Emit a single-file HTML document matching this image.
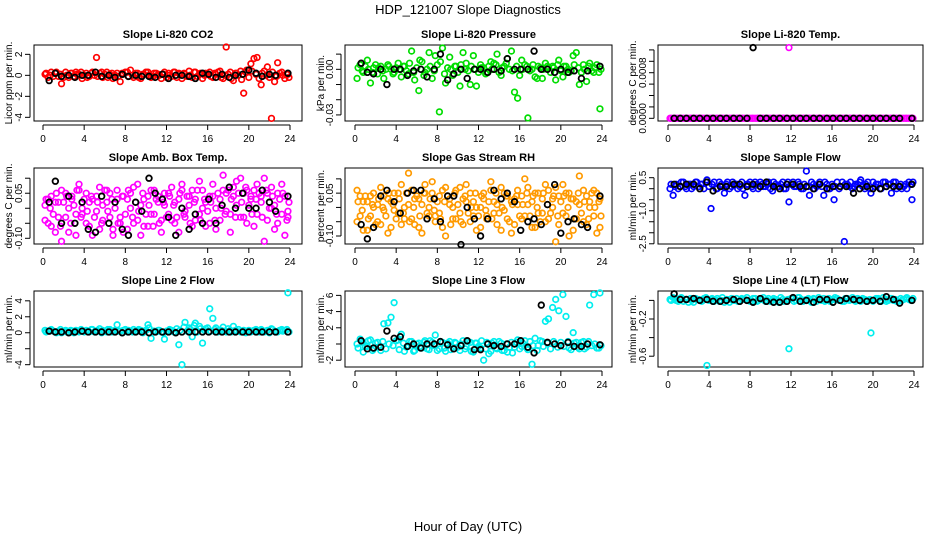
<!DOCTYPE html>
<html><head><meta charset="utf-8"><title>HDP_121007 Slope Diagnostics</title>
<style>
html,body{margin:0;padding:0;background:#fff;}
svg{display:block;font-family:"Liberation Sans",Arial,sans-serif;}
</style></head>
<body>
<svg id="chart" width="936" height="540" viewBox="0 0 936 540" xmlns="http://www.w3.org/2000/svg">
<text x="468" y="14" font-size="13" text-anchor="middle">HDP_121007  Slope Diagnostics</text>
<text x="468" y="531" font-size="13" text-anchor="middle">Hour of Day (UTC)</text>
</svg>
<script>
// shared categories (hour of day)
const hoursColor = [0.2,0.5,0.8,1.2,1.5,1.8,2.2,2.5,2.8,3.2,3.5,3.8,4.2,4.5,4.8,5.2,5.5,5.8,6.2,6.5,6.8,7.2,7.5,7.8,8.2,8.5,8.8,9.2,9.5,9.8,10.2,10.5,10.8,11.2,11.5,11.8,12.2,12.5,12.8,13.2,13.5,13.8,14.2,14.5,14.8,15.2,15.5,15.8,16.2,16.5,16.8,17.2,17.5,17.8,18.2,18.5,18.8,19.2,19.5,19.8,20.2,20.5,20.8,21.2,21.5,21.8,22.2,22.5,22.8,23.2,23.5,23.8];
const hoursColorB = [0.3,0.7,1.0,1.3,1.7,2.0,2.3,2.7,3.0,3.3,3.7,4.0,4.3,4.7,5.0,5.3,5.7,6.0,6.3,6.7,7.0,7.3,7.7,8.0,8.3,8.7,9.0,9.3,9.7,10.0,10.3,10.7,11.0,11.3,11.7,12.0,12.3,12.7,13.0,13.3,13.7,14.0,14.3,14.7,15.0,15.3,15.7,16.0,16.3,16.7,17.0,17.3,17.7,18.0,18.3,18.7,19.0,19.3,19.7,20.0,20.3,20.7,21.0,21.3,21.7,22.0,22.3,22.7,23.0,23.3,23.7,23.9];
const hoursBlack = [0.6,1.2,1.8,2.5,3.1,3.8,4.4,5.1,5.7,6.4,7.0,7.7,8.3,9.0,9.6,10.3,10.9,11.6,12.2,12.9,13.5,14.2,14.8,15.5,16.1,16.8,17.4,18.1,18.7,19.4,20.0,20.7,21.3,22.0,22.6,23.8];
const xTicks = [0,4,8,12,16,20,24];

// Panel 1: CO2
const co2Color = [0.1,-0.2,0.3,0.2,-0.1,-0.8,0.3,-0.2,0.2,0.3,0.1,-0.3, 0.2,-0.1,0.3,1.7,0.2,-0.2,0.3,0.1,-0.3,0.2,-0.6,0.1, 0.3,0.5,-0.2,0.2,-0.3,0.1,0.3,-0.2,0.2,0.1,-0.3,0.3, 0.2,-0.1,0.3,0.2,-0.3,0.1,0.4,-0.2,0.3,0.1,-0.3,0.2, 0.3,-0.2,0.1,0.4,-0.3,2.7,0.3,-0.5,0.2,0.4,-1.7,0.5, 1.1,1.6,1.7,-0.9,0.4,0.8,-4.1,-0.6,1.2,0.3,-0.3,0.1];
const co2ColorB = [0.2,0.0,-0.1,0.3,0.1,-0.2,0.0,0.2,-0.1,0.1,0.3,0.0, -0.2,0.2,0.0,-0.1,0.3,0.1,-0.2,0.2,0.0,-0.1,0.2,0.3, -0.1,0.0,0.2,-0.2,0.1,0.3,0.0,-0.1,0.2,0.0,0.1,-0.2, 0.0,0.3,-0.2,0.1,0.2,-0.1,0.0,0.3,-0.1,0.2,0.0,0.1, -0.1,0.2,0.3,-0.2,0.0,0.1,-0.3,0.2,0.0,-0.4,0.3,-0.2, 0.4,0.1,-0.3,0.2,0.0,-0.2,0.3,-0.1,0.2,0.0,0.1,-0.2];
const co2Black = [-0.5,0.2,-0.1,0.0,-0.2,0.0, 0.0,0.3,-0.1,0.0,-0.2,0.1, -0.1,0.0,-0.1,-0.1,-0.2,0.1, -0.3,0.0,0.0,-0.1,-0.3,0.2, 0.1,-0.2,0.1,-0.2,0.0,0.1, 0.5,0.2,-0.1,0.1,0.0,0.2];
// Panel 2: Pressure
const presColor = [-0.006,0.003,-0.002,0.006,-0.009,0.001,-0.003,0.002,-0.006,0.003,0.000,-0.002, 0.004,-0.005,0.002,-0.003,0.012,-0.007,-0.014,0.005,-0.002,0.011,-0.006,0.009, -0.028,0.014,-0.009,0.008,-0.004,0.002,-0.011,0.011,0.004,-0.010,0.009,-0.011, 0.003,0.001,-0.002,0.005,0.004,0.010,-0.004,0.002,0.007,0.012,-0.015,-0.019, 0.006,0.003,-0.032,0.000,-0.005,0.002,-0.006,0.004,0.001,0.002,-0.007,0.006, -0.005,0.002,-0.002,0.009,0.011,-0.010,0.003,-0.008,0.004,-0.002,0.003,-0.026];
const presColorB = [0.001,-0.001,0.002,0.000,-0.002,0.003,0.001,-0.001,0.000,0.002,-0.003,0.001, 0.000,0.002,-0.001,0.004,-0.002,0.001,0.006,-0.004,0.000,0.002,-0.001,0.003, 0.005,-0.003,0.001,0.000,0.002,-0.002,0.003,0.000,-0.001,0.002,0.000,-0.002, 0.001,-0.003,0.002,0.000,0.003,-0.002,0.001,0.004,0.000,-0.001,0.002,-0.004, 0.000,0.002,-0.001,0.003,-0.006,0.001,0.000,0.002,-0.002,0.001,0.003,-0.001, 0.002,0.000,-0.001,0.003,0.001,-0.002,0.000,0.002,-0.001,0.001,-0.002,0.000];
const presBlack = [0.004,-0.002,-0.003,0.000,-0.010,0.000, 0.000,-0.004,-0.001,0.000,-0.005,0.000, 0.010,-0.007,-0.003,0.000,-0.006,0.000, 0.000,-0.002,0.000,-0.001,0.007,0.000, 0.000,0.000,0.012,0.000,0.000,-0.002, 0.000,-0.002,-0.001,-0.006,-0.001,0.002];
// Panel 3: Li-820 Temp
const tempColor = [0,0,0,0,0,0,0,0,0,0,0,0, 0,0,0,0,0,0,0,0,0,0,0,0, 0,0,0,0,0,0,0,0,0,0,0,0.00124, 0,0,0,0,0,0,0,0,0,0,0,0, 0,0,0,0,0,0,0,0,0,0,0,0, 0,0,0,0,0,0,0,0,0,0,0,0];
const tempColorB = [0,0,0,0,0,0,0,0,0,0,0,0, 0,0,0,0,0,0,0,0,0,0,0,0, 0,0,0,0,0,0,0,0,0,0,0,0, 0,0,0,0,0,0,0,0,0,0,0,0, 0,0,0,0,0,0,0,0,0,0,0,0, 0,0,0,0,0,0,0,0,0,0,0,0];
const tempBlack = [0,0,0,0,0,0, 0,0,0,0,0,0, 0.00124,0,0,0,0,0, 0,0,0,0,0,0, 0,0,0,0,0,0, 0,0,0,0,0,0];
// Panel 4: Amb Box Temp
const ambColorA = [0.01,-0.05,0.04,-0.08,0.02,0.06,-0.03,0.00,0.04,-0.09,0.08,-0.02, 0.05,-0.06,0.03,-0.01,0.07,-0.04,0.02,0.05,-0.07,0.06,-0.03,-0.08, 0.03,0.05,-0.05,0.08,0.01,-0.06,0.04,-0.02,0.06,0.02,-0.04,0.05, -0.02,0.07,-0.05,0.03,0.08,-0.03,0.01,0.06,-0.04,0.09,0.00,-0.06, 0.04,0.08,-0.07,0.03,0.11,0.05,-0.02,0.07,0.01,0.10,-0.03,0.06, 0.04,-0.06,0.08,0.02,0.10,-0.04,0.07,0.01,-0.05,0.08,-0.09,-0.03];
const ambColorB = [-0.04,0.03,-0.06,0.02,-0.03,-0.11,0.05,-0.08,0.03,-0.02,0.06,0.00, -0.05,0.02,-0.09,0.04,-0.07,0.01,0.06,-0.03,-0.09,0.03,-0.05,0.04, -0.07,0.00,0.07,-0.04,-0.09,0.03,-0.06,0.06,-0.02,0.04,-0.08,0.01, 0.05,-0.04,0.02,-0.08,0.06,-0.01,0.04,-0.06,0.03,-0.02,0.06,0.02, -0.05,0.04,0.00,-0.04,0.06,-0.01,-0.08,0.04,0.09,-0.03,0.05,-0.05, 0.03,0.06,-0.02,0.04,-0.11,0.05,0.00,-0.07,0.05,-0.02,0.04,-0.01];
const ambColorC = [0.03,0.00,-0.02,0.05,-0.06,0.02,0.04,-0.05,0.01,0.06,-0.03,0.03, -0.01,0.04,-0.03,0.02,-0.05,0.06,-0.01,0.03,0.00,-0.05,0.04,-0.02, 0.06,-0.03,0.02,-0.01,0.05,-0.02,0.01,-0.06,0.03,-0.05,0.02,-0.03, 0.04,0.01,-0.03,0.05,-0.02,0.04,-0.05,0.02,0.06,-0.04,0.03,-0.01, 0.02,-0.04,0.05,0.00,-0.02,0.06,0.03,-0.03,0.05,0.02,0.07,0.01, -0.02,0.03,0.05,-0.03,0.06,0.00,0.04,-0.02,0.03,0.05,-0.04,0.02];
const ambBlack = [0.02,0.09,-0.05,0.04,-0.05,0.02, -0.07,-0.08,0.04,-0.05,0.02,-0.07, -0.09,0.02,-0.01,0.10,0.05,0.03, -0.03,-0.09,0.00,-0.07,-0.02,-0.05, 0.03,-0.05,0.01,0.07,0.00,0.05, 0.00,0.00,0.06,0.02,-0.01,0.04];
// Panel 5: Gas Stream RH
const rhColorA = [0.06,-0.03,0.02,-0.08,0.04,0.00,-0.05,0.07,-0.01,0.03,-0.07,0.05, -0.02,0.08,-0.04,0.01,0.06,-0.06,0.03,-0.09,0.05,0.00,0.09,-0.03, 0.04,-0.07,0.07,0.01,-0.04,0.06,-0.02,0.03,0.08,-0.05,0.02,-0.08, 0.00,0.05,-0.03,0.09,0.02,-0.06,0.07,-0.01,0.04,-0.09,0.03,0.06, -0.04,0.10,0.01,-0.07,0.05,-0.02,0.03,-0.05,0.06,0.00,-0.12,0.04, 0.08,-0.03,0.05,-0.08,0.02,0.11,-0.05,0.04,0.00,0.06,-0.09,0.03];
const rhColorB = [-0.05,0.04,-0.08,0.02,-0.03,0.05,0.01,-0.06,0.04,-0.09,0.02,-0.01, 0.05,-0.06,0.00,0.12,-0.04,0.03,-0.07,0.01,0.08,-0.03,0.05,-0.05, -0.02,0.06,-0.10,0.03,0.00,-0.04,0.07,-0.06,0.02,0.05,-0.03,0.00, -0.07,0.03,-0.04,0.06,-0.02,0.01,-0.08,0.05,-0.04,0.02,-0.06,0.01, 0.04,-0.03,0.07,0.02,-0.07,0.05,-0.02,0.08,-0.04,0.03,0.07,-0.06, -0.02,0.05,-0.10,0.03,-0.04,0.01,0.06,-0.06,0.02,-0.03,0.05,-0.07];
const rhColorC = [0.02,-0.01,0.04,-0.04,0.01,-0.06,0.03,0.00,-0.03,0.05,0.01,-0.04, 0.03,-0.02,0.05,-0.05,0.00,0.04,-0.03,0.05,-0.02,0.03,-0.01,0.02, -0.04,0.02,0.04,-0.06,0.05,0.01,-0.05,0.04,-0.02,0.00,0.05,-0.03, 0.04,-0.01,0.02,-0.04,0.05,-0.02,0.00,0.04,-0.05,0.01,0.04,-0.03, 0.01,0.05,-0.03,0.04,0.00,-0.05,0.05,0.01,-0.02,0.04,-0.03,0.02, 0.04,0.00,0.03,-0.04,0.05,-0.02,0.02,-0.04,0.05,0.00,0.02,-0.03];
const rhBlack = [-0.06,-0.11,-0.07,0.04,0.06,0.02, -0.02,0.05,0.06,0.06,-0.04,0.03, -0.05,0.04,0.04,-0.13,0.00,-0.04, -0.10,-0.04,0.06,0.03,0.05,0.02, -0.08,-0.05,-0.04,-0.06,0.01,0.08, -0.09,-0.05,-0.04,-0.06,-0.07,0.04];
// Panel 6: Sample Flow
const sampleColor = [0.0,-0.3,0.2,0.1,0.3,0.0,0.2,0.1,0.3,0.2,0.0,0.4, -0.9,0.3,0.0,0.2,-0.2,0.3,0.1,0.2,0.0,0.3,-0.3,0.2, 0.1,0.3,0.0,0.2,0.1,0.3,-0.1,0.2,0.1,0.3,0.0,-0.6, 0.3,0.1,0.2,0.0,0.8,-0.3,0.2,0.1,0.3,-0.3,0.2,0.0, -0.5,0.3,0.1,-2.4,0.2,0.3,0.1,0.2,0.4,0.0,0.3,-0.2, 0.1,0.2,0.0,0.3,0.2,-0.2,0.3,0.1,0.0,0.2,0.3,-0.5];
const sampleColorB = [0.2,0.1,0.0,0.3,0.1,0.2,0.0,0.3,0.1,0.2,0.3,0.1, 0.2,0.0,0.3,0.1,0.2,0.0,0.3,0.2,0.1,0.0,0.2,0.3, 0.0,0.2,0.3,0.1,0.2,0.0,0.3,0.1,0.2,0.0,0.3,0.2, 0.1,0.3,0.0,0.2,0.1,0.3,0.0,0.2,0.1,0.3,0.0,0.2, 0.1,0.0,0.3,0.2,0.1,0.0,0.2,0.3,0.1,0.2,0.0,0.3, 0.2,0.0,0.3,0.1,0.2,0.3,0.0,0.2,0.1,0.0,0.2,0.3];
const sampleBlack = [0.2,0.1,0.2,0.2,0.0,0.3, -0.1,0.1,0.1,0.2,0.2,0.1, 0.2,0.1,0.3,0.1,0.0,0.2, 0.2,0.1,0.1,0.0,0.2,0.0, 0.1,0.1,0.1,-0.2,0.0,0.1, 0.0,0.0,0.1,0.1,0.1,0.2];
// Panel 7: Line 2 Flow
const line2Color = [0.3,0.2,0.4,0.1,0.2,0.0,0.3,0.1,0.2,0.3,0.1,0.2, 0.3,0.1,0.4,0.2,0.5,0.3,0.1,0.4,0.2,1.0,0.2,0.3, 0.1,0.2,0.4,0.2,0.3,0.1,1.0,-0.7,0.2,0.3,0.1,-0.8, 0.2,0.3,0.1,-1.5,-4.0,1.3,0.6,-0.5,1.2,0.8,-1.3,0.5, 3.0,1.8,0.6,0.2,0.7,0.1,0.3,0.8,0.2,0.1,0.3,0.2, 0.1,0.3,0.2,0.4,0.1,0.3,0.5,0.2,0.1,0.4,0.3,5.0];
const line2ColorB = [0.1,0.3,0.2,0.0,0.4,0.2,0.1,0.3,0.0,0.2,0.4,0.1, 0.2,0.4,0.1,0.3,0.0,0.2,0.4,0.1,0.3,0.2,0.0,0.4, 0.3,0.1,0.2,0.4,0.0,0.3,0.6,0.2,0.1,0.3,0.0,0.2, 0.4,0.1,0.5,0.3,0.7,0.2,0.4,0.9,0.1,0.5,0.3,0.6, 0.2,0.4,0.1,0.3,0.2,0.5,0.1,0.3,0.4,0.2,0.0,0.3, 0.2,0.4,0.1,0.3,0.2,0.0,0.4,0.1,0.3,0.2,0.4,0.1];
const line2Black = [0.2,0.1,0.1,0.0,0.1,0.2, 0.1,0.1,0.1,0.1,0.1,0.0, 0.1,0.1,0.1,0.0,0.1,0.1, 0.1,0.0,0.1,0.1,0.1,0.1, 0.1,0.1,0.1,0.1,0.1,0.1, 0.1,0.1,0.1,0.1,0.1,0.1];
// Panel 8: Line 3 Flow
const line3Color = [0.0,0.6,-1.0,-0.3,0.5,-0.6,0.2,-0.8,2.5,2.6,3.3,5.1, 0.5,1.2,-0.9,-0.2,0.3,-0.8,0.1,-0.5,0.4,-0.7,0.2,1.1, -0.6,0.2,-0.9,0.3,-0.4,0.1,-0.8,0.4,-0.3,0.2,-1.0,0.1, -0.5,-2.0,0.2,-0.9,0.3,-0.6,0.1,-0.8,-1.0,0.2,-0.4,0.5, -0.3,0.4,-0.7,-2.5,0.7,-0.2,0.3,2.8,3.1,4.5,5.5,4.1, 6.1,3.4,-0.5,1.4,0.2,-0.6,0.3,-0.4,4.8,6.1,-0.5,6.3];
const line3ColorB = [-0.5,0.2,-0.3,0.4,-0.8,0.1,-0.4,0.3,-0.6,0.0,-0.2,0.4, -0.7,0.1,-0.4,0.3,-0.9,0.0,-0.3,0.2,-0.6,0.4,-0.2,-0.8, 0.3,-0.5,0.1,-0.7,0.2,-0.4,0.0,-0.6,0.3,-0.9,0.1,-0.3, 0.4,-0.6,-1.2,0.1,-0.5,0.3,-0.8,0.0,-0.4,-1.1,0.2,-0.6, 0.1,-0.5,0.3,-0.2,-0.8,0.4,-0.3,0.1,-0.6,0.3,-0.4,0.2, -0.3,0.3,-0.7,0.1,-0.4,0.2,-0.6,0.3,-0.2,0.0,-0.5,-0.2];
const line3Black = [0.4,-0.6,-0.5,-0.4,1.6,0.7, 0.9,-0.3,0.0,-0.5,0.0,0.0, 0.3,-0.1,-0.6,-0.2,0.4,-0.7, -0.7,0.0,-0.2,-0.3,0.0,0.0, 0.4,-0.4,-1.1,4.8,0.2,0.0, -0.2,0.2,-0.3,-0.3,0.0,-0.1];
// Panel 9: Line 4 (LT) Flow
const line4Color = [0.01,0.03,0.00,0.02,-0.01,0.01,0.02,-0.02,0.01,0.00,0.02,-0.70, 0.01,-0.01,0.02,0.00,-0.02,0.01,0.02,0.00,-0.01,0.02,0.01,0.00, -0.01,0.02,0.00,0.01,-0.01,0.02,0.00,0.01,-0.02,0.01,0.00,-0.52, 0.02,0.00,0.03,-0.01,0.01,0.00,0.02,-0.01,0.01,0.02,0.00,-0.01, 0.01,0.02,0.00,-0.01,0.02,0.01,0.00,0.02,-0.01,0.01,0.00,-0.35, 0.01,0.02,-0.01,0.01,0.00,0.02,0.01,-0.01,0.00,0.02,0.01,0.00];
const line4ColorB = [0.00,0.02,-0.01,0.03,0.01,-0.02,0.00,0.02,0.01,-0.01,0.03,0.00, 0.02,0.00,-0.01,0.03,0.01,-0.02,0.00,0.02,-0.01,0.01,0.03,-0.01, 0.02,-0.01,0.01,0.03,0.00,-0.01,0.02,0.00,0.03,-0.01,0.01,0.02, -0.01,0.03,0.01,0.00,0.02,-0.02,0.01,0.03,0.00,-0.01,0.02,0.01, 0.03,0.00,-0.01,0.02,0.00,0.03,-0.01,0.01,0.02,0.00,0.01,-0.01, 0.02,0.00,0.03,-0.01,0.02,0.00,-0.01,0.02,0.01,0.03,0.00,0.02];
const line4Black = [0.07,0.01,0.01,0.02,0.00,0.01, -0.01,-0.01,0.00,0.01,-0.01,0.00, -0.02,0.02,-0.01,-0.02,-0.02,-0.01, 0.03,-0.01,0.00,-0.02,0.01,0.01, -0.02,0.00,0.02,0.01,0.00,-0.01, 0.00,-0.01,0.04,0.01,-0.03,0.00];

const panels = [
 {name:'co2', title:'Slope Li-820 CO2', ylab:'Licor ppm per min.', col:0,row:0, ymin:-4.35,ymax:2.89, yTicks:[-4,-2,0,2], yLabels:['-4','-2','0','2'], color:'#ff0000', series:[co2ColorB,co2Color], black:co2Black},
 {name:'pressure', title:'Slope Li-820 Pressure', ylab:'kPa per min.', col:1,row:0, ymin:-0.034,ymax:0.016, yTicks:[-0.03,-0.02,-0.01,0,0.01], yLabels:['-0.03','','','0.00',''], color:'#00dd00', series:[presColorB,presColor], black:presBlack},
 {name:'li820-temp', title:'Slope Li-820 Temp.', ylab:'degrees C per min.', col:2,row:0, ymin:-0.000047,ymax:0.001286, yTicks:[0,0.0002,0.0004,0.0006,0.0008,0.001,0.0012], yLabels:['0.0000','','','','0.0008','',''], color:'#ff00ff', series:[tempColorB,tempColor], black:tempBlack},
 {name:'amb-box-temp', title:'Slope Amb. Box Temp.', ylab:'degrees C per min.', col:0,row:1, ymin:-0.119,ymax:0.134, yTicks:[-0.1,-0.05,0,0.05,0.1], yLabels:['-0.10','','','0.05',''], color:'#ff00ff', series:[ambColorC,ambColorA,ambColorB], black:ambBlack},
 {name:'gas-stream-rh', title:'Slope Gas Stream RH', ylab:'percent per min.', col:1,row:1, ymin:-0.128,ymax:0.138, yTicks:[-0.1,-0.05,0,0.05,0.1], yLabels:['-0.10','','','0.05',''], color:'#ff9a00', series:[rhColorC,rhColorA,rhColorB], black:rhBlack},
 {name:'sample-flow', title:'Slope Sample Flow', ylab:'ml/min per min.', col:2,row:1, ymin:-2.51,ymax:0.94, yTicks:[-2.5,-2,-1.5,-1,-0.5,0,0.5], yLabels:['-2.5','','','-1.0','','','0.5'], color:'#0000ff', series:[sampleColorB,sampleColor], black:sampleBlack},
 {name:'line2-flow', title:'Slope Line 2 Flow', ylab:'ml/min per min.', col:0,row:2, ymin:-4.29,ymax:5.23, yTicks:[-4,-2,0,2,4], yLabels:['-4','','0','2','4'], color:'#00eeee', series:[line2ColorB,line2Color], black:line2Black},
 {name:'line3-flow', title:'Slope Line 3 Flow', ylab:'ml/min per min.', col:1,row:2, ymin:-2.84,ymax:6.54, yTicks:[-2,0,2,4,6], yLabels:['-2','','2','4','6'], color:'#00eeee', series:[line3ColorB,line3Color], black:line3Black},
 {name:'line4-flow', title:'Slope Line 4 (LT) Flow', ylab:'ml/min per min.', col:2,row:2, ymin:-0.716,ymax:0.101, yTicks:[-0.6,-0.4,-0.2,0], yLabels:['-0.6','','-0.2',''], color:'#00eeee', series:[line4ColorB,line4Color], black:line4Black}
];

const colBoxL=[34,345,658], colBoxR=[302,612,923], colX0=[43,355,668], colX24=[290,602,914], colLeft=[0,312,624];
const rowTop=[45,168,291], boxH=76;
const NS='http://www.w3.org/2000/svg';
const svg=document.getElementById('chart');
function mk(tag,attrs,parent){const e=document.createElementNS(NS,tag);for(const k in attrs)e.setAttribute(k,attrs[k]);parent.appendChild(e);return e;}

panels.forEach(p=>{
  const L=colBoxL[p.col],R=colBoxR[p.col],T=rowTop[p.row],B=T+boxH;
  const xs=h=>colX0[p.col]+(colX24[p.col]-colX0[p.col])*h/24;
  const ys=v=>B-(v-p.ymin)/(p.ymax-p.ymin)*boxH;
  const g=mk('g',{},svg);
  
  
  const t=mk('text',{x:(L+R)/2,y:T-7,'font-size':11,'font-weight':'bold','text-anchor':'middle'},g);
  t.textContent=p.title;
  
  
  const box=mk('rect',{x:L,y:T,width:R-L,height:boxH,fill:'none',stroke:'#000','stroke-width':1},g);
  
  
  const xa=mk('g',{},g);
  
  
  mk('line',{x1:xs(0),x2:xs(24),y1:B+4,y2:B+4,stroke:'#000'},xa);
  xTicks.forEach(v=>{
    mk('line',{x1:xs(v),x2:xs(v),y1:B+4,y2:B+9,stroke:'#000'},xa);
    const tl=mk('text',{x:xs(v),y:B+21,'font-size':10,'text-anchor':'middle'},xa);
    tl.textContent=v;
    
    
  });
  const ya=mk('g',{},g);
  
  
  const ax=L-4;
  mk('line',{x1:ax,x2:ax,y1:ys(p.yTicks[0]),y2:ys(p.yTicks[p.yTicks.length-1]),stroke:'#000'},ya);
  p.yTicks.forEach((v,i)=>{
    const y=ys(v);
    mk('line',{x1:ax-5,x2:ax,y1:y,y2:y,stroke:'#000'},ya);
    if(p.yLabels[i]){
      const tl=mk('text',{x:ax-8,y:y,'font-size':10,'text-anchor':'middle',transform:'rotate(-90 '+(ax-8)+' '+y+')'},ya);
      tl.textContent=p.yLabels[i];
      
      
    }
  });
  const yl=mk('text',{x:colLeft[p.col]+12,y:(T+B)/2,'font-size':10,'text-anchor':'middle',transform:'rotate(-90 '+(colLeft[p.col]+12)+' '+((T+B)/2)+')'},g);
  yl.textContent=p.ylab;
  
  
  p.series.forEach((s,si)=>{
    const hrs = si===0 ? hoursColorB : hoursColor;
    const sg=mk('g',{fill:'none',stroke:p.color,'stroke-width':1.7},g);
    
    
    s.forEach((v,i)=>{
      const c=mk('circle',{cx:xs(hrs[i]),cy:ys(v),r:2.8},sg);
      
      
    });
  });
  const bg=mk('g',{fill:'none',stroke:'#000','stroke-width':1.8},g);
  
  
  p.black.forEach((v,i)=>{
    const c=mk('circle',{cx:xs(hoursBlack[i]),cy:ys(v),r:2.8},bg);
    
    
  });
});
</script>
</body></html>
